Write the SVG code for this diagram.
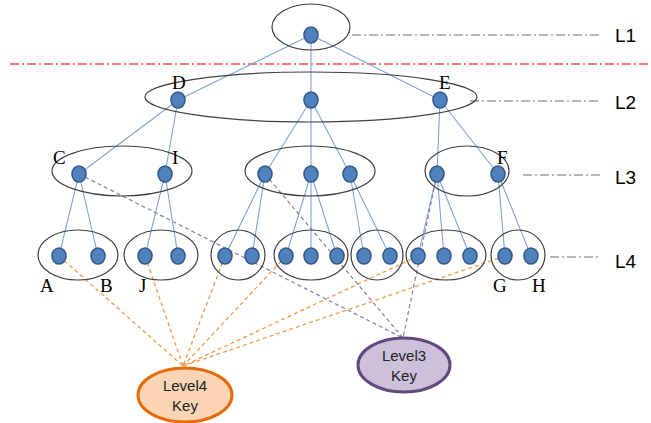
<svg xmlns="http://www.w3.org/2000/svg" width="651" height="423" viewBox="0 0 651 423">
  <style>
    .grp { fill: none; stroke: #404040; stroke-width: 1.2; }
    .dot { fill: #4f81bd; stroke: #345a88; stroke-width: 1.6; }
    .edge { stroke: #7fa3d6; stroke-width: 1.1; fill: none; }
    .k4 { stroke: #f09a50; stroke-width: 1.3; stroke-dasharray: 4 3; fill: none; }
    .k3 { stroke: #8a7aa8; stroke-width: 1.2; stroke-dasharray: 4 3; fill: none; }
    .lvl { stroke: #6f6f6f; stroke-width: 1.2; stroke-dasharray: 9 3 2 3; }
    .cut { stroke: #ff4a4a; stroke-width: 1.3; stroke-dasharray: 9 3 2 3; }
    .ltr { font-family: "Liberation Serif", serif; font-size: 19px; fill: #000; }
    .lvltxt { font-family: "Liberation Sans", sans-serif; font-size: 19px; fill: #000; }
    .keytxt { font-family: "Liberation Sans", sans-serif; font-size: 15px; fill: #222; text-anchor: middle; }
  </style>

  <!-- level guide lines -->
  <g id="guides">
    <line class="cut" x1="10" y1="64" x2="651" y2="64"/>
    <line class="lvl" x1="352" y1="35" x2="600" y2="35"/>
    <line class="lvl" x1="470" y1="101" x2="600" y2="101"/>
    <line class="lvl" x1="523" y1="175" x2="600" y2="175"/>
    <line class="lvl" x1="550" y1="257" x2="600" y2="257"/>
    <text class="lvltxt" x="615" y="42">L1</text>
    <text class="lvltxt" x="615" y="109">L2</text>
    <text class="lvltxt" x="615" y="184">L3</text>
    <text class="lvltxt" x="615" y="268">L4</text>
  </g>

  <!-- connectors -->
  <g id="connectors">
    <!-- tree edges -->
    <path class="edge" d="M311,35 L178,100 M311,35 L311,100 M311,35 L440,100
      M178,100 L79,174 M178,100 L165,174
      M311,100 L265,174 M311,100 L311,174 M311,100 L350,174
      M440,100 L437,174 M440,100 L498,174
      M79,174 L59,256 M79,174 L98,256
      M165,174 L145,256 M165,174 L178,256
      M265,174 L225,256 M265,174 L252,256
      M311,174 L286,256 M311,174 L311,256 M311,174 L337,256
      M350,174 L364,256 M350,174 L390,256
      M437,174 L418,256 M437,174 L444,256 M437,174 L470,256
      M498,174 L505,256 M498,174 L531,256"/>
    <!-- level-4 key links -->
    <path class="k4" d="M59,256 L183,366 M145,256 L183,366 M225,256 L183,366
      M286,256 L183,366 M418,256 L183,366 M505,256 L183,366"/>
    <!-- level-3 key links -->
    <path class="k3" d="M79,174 L403,338 M265,174 L403,338 M437,174 L403,338"/>
  </g>

  <!-- level 1 -->
  <g id="L1">
    <ellipse class="grp" cx="311" cy="27" rx="39" ry="23"/>
    <ellipse class="dot" cx="311" cy="35" rx="7" ry="8"/>
  </g>

  <!-- level 2 -->
  <g id="L2">
    <ellipse class="grp" cx="311" cy="97" rx="166" ry="25"/>
    <ellipse class="dot" cx="178" cy="100" rx="7" ry="8"/>
    <ellipse class="dot" cx="311" cy="100" rx="7" ry="8"/>
    <ellipse class="dot" cx="440" cy="100" rx="7" ry="8"/>
    <text class="ltr" x="172" y="89">D</text>
    <text class="ltr" x="439" y="89">E</text>
  </g>

  <!-- level 3 -->
  <g id="L3-left">
    <ellipse class="grp" cx="122" cy="171" rx="70" ry="25"/>
    <ellipse class="dot" cx="79" cy="174" rx="7" ry="8"/>
    <ellipse class="dot" cx="165" cy="174" rx="7" ry="8"/>
    <text class="ltr" x="53" y="164">C</text>
    <text class="ltr" x="172" y="164">I</text>
  </g>
  <g id="L3-mid">
    <ellipse class="grp" cx="310" cy="171" rx="65" ry="25"/>
    <ellipse class="dot" cx="265" cy="174" rx="7" ry="8"/>
    <ellipse class="dot" cx="311" cy="174" rx="7" ry="8"/>
    <ellipse class="dot" cx="350" cy="174" rx="7" ry="8"/>
  </g>
  <g id="L3-right">
    <ellipse class="grp" cx="467" cy="171" rx="42" ry="25"/>
    <ellipse class="dot" cx="437" cy="174" rx="7" ry="8"/>
    <ellipse class="dot" cx="498" cy="174" rx="7" ry="8"/>
    <text class="ltr" x="497" y="164">F</text>
  </g>

  <!-- level 4 -->
  <g id="L4-1">
    <ellipse class="grp" cx="78" cy="255" rx="40" ry="25"/>
    <ellipse class="dot" cx="59" cy="256" rx="7" ry="8"/>
    <ellipse class="dot" cx="98" cy="256" rx="7" ry="8"/>
    <text class="ltr" x="40" y="292">A</text>
    <text class="ltr" x="100" y="292">B</text>
  </g>
  <g id="L4-2">
    <ellipse class="grp" cx="161" cy="255" rx="37" ry="25"/>
    <ellipse class="dot" cx="145" cy="256" rx="7" ry="8"/>
    <ellipse class="dot" cx="178" cy="256" rx="7" ry="8"/>
    <text class="ltr" x="139" y="292">J</text>
  </g>
  <g id="L4-3">
    <ellipse class="grp" cx="238" cy="255" rx="27" ry="25"/>
    <ellipse class="dot" cx="225" cy="256" rx="7" ry="8"/>
    <ellipse class="dot" cx="252" cy="256" rx="7" ry="8"/>
  </g>
  <g id="L4-4">
    <ellipse class="grp" cx="311" cy="255" rx="37" ry="25"/>
    <ellipse class="dot" cx="286" cy="256" rx="7" ry="8"/>
    <ellipse class="dot" cx="311" cy="256" rx="7" ry="8"/>
    <ellipse class="dot" cx="337" cy="256" rx="7" ry="8"/>
  </g>
  <g id="L4-5">
    <ellipse class="grp" cx="377" cy="255" rx="26" ry="25"/>
    <ellipse class="dot" cx="364" cy="256" rx="7" ry="8"/>
    <ellipse class="dot" cx="390" cy="256" rx="7" ry="8"/>
  </g>
  <g id="L4-6">
    <ellipse class="grp" cx="446" cy="255" rx="40" ry="25"/>
    <ellipse class="dot" cx="418" cy="256" rx="7" ry="8"/>
    <ellipse class="dot" cx="444" cy="256" rx="7" ry="8"/>
    <ellipse class="dot" cx="470" cy="256" rx="7" ry="8"/>
  </g>
  <g id="L4-7">
    <ellipse class="grp" cx="518" cy="255" rx="27" ry="25"/>
    <ellipse class="dot" cx="505" cy="256" rx="7" ry="8"/>
    <ellipse class="dot" cx="531" cy="256" rx="7" ry="8"/>
    <text class="ltr" x="493" y="292">G</text>
    <text class="ltr" x="532" y="292">H</text>
  </g>

  <!-- key nodes -->
  <g id="level4-key">
    <ellipse cx="185" cy="395" rx="47" ry="27" fill="#fbd5b5" stroke="#e46c0a" stroke-width="3"/>
    <text class="keytxt" x="185" y="391">Level4</text>
    <text class="keytxt" x="185" y="411">Key</text>
  </g>
  <g id="level3-key">
    <ellipse cx="404" cy="365" rx="46" ry="27" fill="#ccc0da" stroke="#604a7b" stroke-width="3"/>
    <text class="keytxt" x="404" y="361">Level3</text>
    <text class="keytxt" x="404" y="381">Key</text>
  </g>
</svg>
